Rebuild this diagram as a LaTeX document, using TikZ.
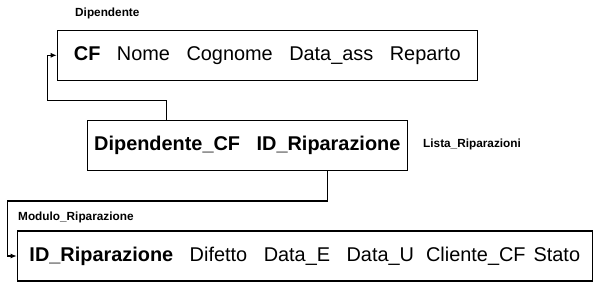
\documentclass[tikz,border=0pt]{standalone}
\usepackage{fontspec}
\setmainfont{Liberation Sans}
\usepackage{tikz}
\usetikzlibrary{arrows.meta,positioning}
\newcommand{\campo}{\hspace{16.5pt}}

\begin{document}
\begin{tikzpicture}[x=1pt, y=-1pt, line cap=butt, line join=miter,
  tabella/.style={draw, line width=1.2pt, inner sep=0pt,
    minimum height=50pt, font=\fontsize{19.9}{24}\selectfont},
  nometab/.style={anchor=west, inner sep=0pt,
    font=\fontsize{11.8}{14}\selectfont\bfseries},
  fk/.style={line width=1.1pt, -{Latex[length=6pt,width=5pt]}}]
  \path[use as bounding box] (0,0) rectangle (594,287);
  % tabelle: centro (x,y) in pixel, y verso il basso
  \node[tabella, minimum width=420pt] (dipendente) at (267.3,55.3)
    {\textbf{CF}\campo Nome\campo Cognome\campo Data\_ass\campo Reparto};
  \node[tabella, minimum width=320pt] (lista) at (247.3,145.4)
    {\textbf{Dipendente\_CF\campo ID\_Riparazione}};
  \node[tabella, minimum width=575pt] (modulo) at (304.8,256)
    {\textbf{ID\_Riparazione}\campo Difetto\campo Data\_E\campo
     Data\_U\hspace{12pt}Cliente\_CF\hspace{8pt}Stato\hspace{4pt}};
  \node[nometab] (nomedip) at (75,13.5) {Dipendente};
  \node[nometab] (nomelista) at (423,144) {Lista\_Riparazioni};
  \node[nometab] (nomemod) at (18,217.7) {Modulo\_Riparazione};
  % chiavi esterne
  \coordinate (gomito1) at (47.5,100.3);
  \coordinate (gomito2) at (7.3,201);
  \draw[fk] ([xshift=80pt]lista.north west) |- (gomito1) |- (dipendente.west);
  \draw[fk] ([xshift=240.5pt]lista.south west) |- (gomito2) |- (modulo.west);
\end{tikzpicture}
\end{document}
